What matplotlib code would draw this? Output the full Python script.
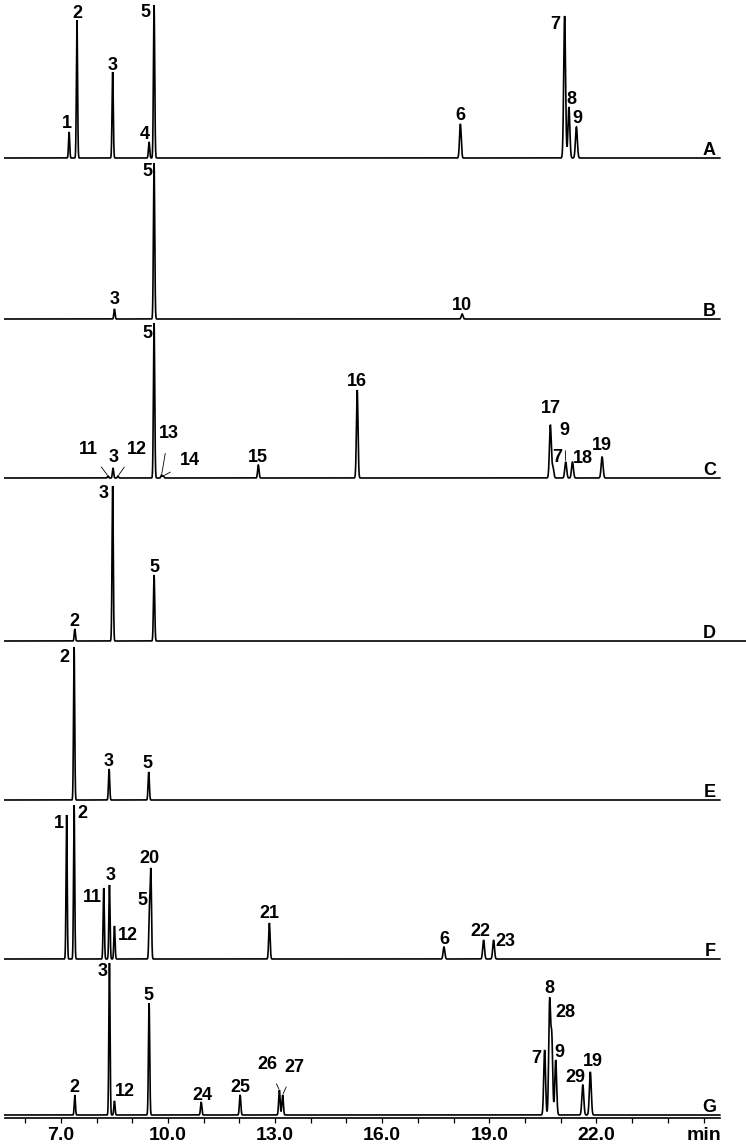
import numpy as np
import matplotlib.pyplot as plt

plt.rcParams['font.family'] = ['Liberation Sans', 'DejaVu Sans']
plt.rcParams['font.weight'] = 'bold'

# Trace names (top to bottom)
names = ['A', 'B', 'C', 'D', 'E', 'F', 'G']

# Retention times (min), peak heights (px) and peak numbers for each trace
rt_A = [7.23, 7.45, 8.45, 9.47, 9.61, 18.19, 21.11, 21.23, 21.44]
h_A = [26, 138, 86, 16, 153, 34, 142, 51, 31]
pk_A = ['1', '2', '3', '4', '5', '6', '7', '8', '9']

rt_B = [8.50, 9.61, 18.24]
h_B = [10, 156, 5]
pk_B = ['3', '5', '10']

rt_C = [8.32, 8.46, 8.60, 9.61, 9.82, 9.87, 12.53, 15.30, 20.71, 20.78, 21.14, 21.33, 22.16]
h_C = [2, 10, 2, 155, 3, 2, 13, 88, 53, 11, 16, 16, 21]
pk_C = ['11', '3', '12', '5', '13', '14', '15', '16', '17', '7', '9', '18', '19']

rt_D = [7.39, 8.45, 9.61]
h_D = [12, 155, 66]
pk_D = ['2', '3', '5']

rt_E = [7.37, 8.35, 9.46]
h_E = [153, 31, 28]
pk_E = ['2', '3', '5']

rt_F = [7.16, 7.37, 8.20, 8.36, 8.50, 9.48, 9.52, 12.84, 17.73, 18.84, 19.12]
h_F = [144, 154, 71, 74, 33, 46, 87, 36, 12, 19, 19]
pk_F = ['1', '2', '11', '3', '12', '5', '20', '21', '6', '22', '23']

rt_G = [7.39, 8.36, 8.50, 9.47, 10.93, 12.02, 13.12, 13.21, 20.55, 20.69, 20.75, 20.86, 21.62, 21.83]
h_G = [20, 152, 14, 112, 13, 20, 25, 20, 65, 112, 76, 55, 30, 43]
pk_G = ['2', '3', '12', '5', '24', '25', '26', '27', '7', '8', '28', '9', '29', '19']

# Label placement: (dx, dy) in pixels from the peak apex, 1 = leader line
lay_A = [(-2, 9, 0), (0, 8, 0), (0, 7, 0), (-4, 8, 0), (-9, -7, 0), (0, 9, 0), (-9, -8, 0), (2, 8, 0), (1, 9, 0)]
lay_B = [(0, 10, 0), (-7, -8, 0), (0, 10, 0)]
lay_C = [(-20, 28, 1), (1, 11, 0), (19, 28, 1), (-7, -10, 0), (7, 42, 1), (27, 16, 1), (0, 9, 0),
         (0, 9, 0), (1, 17, 0), (4, 9, 0), (-1, 32, 1), (10, 4, 0), (0, 12, 0)]
lay_D = [(0, 9, 0), (-9, -7, 0), (0, 9, 0)]
lay_E = [(-10, -9, 0), (0, 9, 0), (-1, 9, 0)]
lay_F = [(-8, -7, 0), (8, -8, 0), (-11, -8, 0), (1, 10, 0), (13, -9, 0), (-7, 7, 0), (-1, 11, 0),
         (0, 10, 0), (0, 9, 0), (-3, 10, 0), (12, 0, 0)]
lay_G = [(0, 9, 0), (-7, -8, 0), (10, 10, 0), (-1, 8, 0), (1, 8, 0), (0, 8, 0), (-12, 26, 1),
         (12, 28, 1), (-8, -8, 0), (0, 11, 0), (14, 20, 0), (4, 8, 0), (-7, 8, 0), (3, 11, 0)]

traces = [(rt_A, h_A, pk_A, lay_A), (rt_B, h_B, pk_B, lay_B), (rt_C, h_C, pk_C, lay_C),
          (rt_D, h_D, pk_D, lay_D), (rt_E, h_E, pk_E, lay_E), (rt_F, h_F, pk_F, lay_F),
          (rt_G, h_G, pk_G, lay_G)]

# Baseline of each trace, pixels from the top of the image
base_px = [158, 319, 478, 641, 800, 959, 1115]

W, H = 746, 1145
axis_px = 1118
px_per_min = 35.7
t_left = 10 - 168 / px_per_min
t_right = 10 + (W - 168) / px_per_min
t_start, t_end = 5.43, 25.46


def signal(t, rts, hs):
    y = np.zeros_like(t)
    for r, h in zip(rts, hs):
        s = 0.016 + 0.0007 * (r - 7)
        y += h * np.exp(-0.5 * ((t - r) / s) ** 2)
    return y


fig = plt.figure(figsize=(W / 100, H / 100), dpi=100)
ax = fig.add_axes([0, (H - axis_px) / H, 1, axis_px / H])
ax.set_xlim(t_left, t_right)
ax.set_ylim(0, axis_px)

lab_fs = 13
for i, (rts, hs, pks, lay) in enumerate(traces):
    y0 = axis_px - base_px[i]
    t1 = t_right if names[i] == 'D' else t_end
    t = np.arange(t_start, t1, 0.002)
    ax.plot(t, y0 + signal(t, rts, hs), color='black', lw=1.2, solid_joinstyle='miter')
    for r, p, (dx, dy, lead) in zip(rts, pks, lay):
        top = y0 + signal(np.array([r]), rts, hs)[0]
        kw = {}
        if lead:
            kw['arrowprops'] = dict(arrowstyle='-', color='black', lw=0.6, shrinkA=6, shrinkB=1)
        ax.annotate(p, xy=(r, top), xytext=(dx, dy - 1), textcoords='offset pixels',
                    ha='center', va='center', fontsize=lab_fs, fontweight='bold', **kw)
    ax.annotate(names[i], xy=(10 + (716 - 168) / px_per_min, y0), xytext=(0, 3),
                textcoords='offset pixels', ha='right', va='baseline',
                fontsize=lab_fs, fontweight='bold')

for s in ['left', 'right', 'top']:
    ax.spines[s].set_visible(False)
ax.spines['bottom'].set_bounds(t_start, t_end)
ax.spines['bottom'].set_linewidth(1.2)
ax.set_yticks([])
ax.set_xticks([7, 10, 13, 16, 19, 22, 25])
ax.set_xticklabels(['7.0', '10.0', '13.0', '16.0', '19.0', '22.0', 'min'],
                   fontsize=14, fontweight='bold')
ax.set_xticks(np.arange(6, 26), minor=True)
ax.tick_params(axis='x', which='both', direction='out', length=3.5, width=0.9, pad=3)
ax.patch.set_visible(False)

fig.savefig('out.png', dpi=100)
